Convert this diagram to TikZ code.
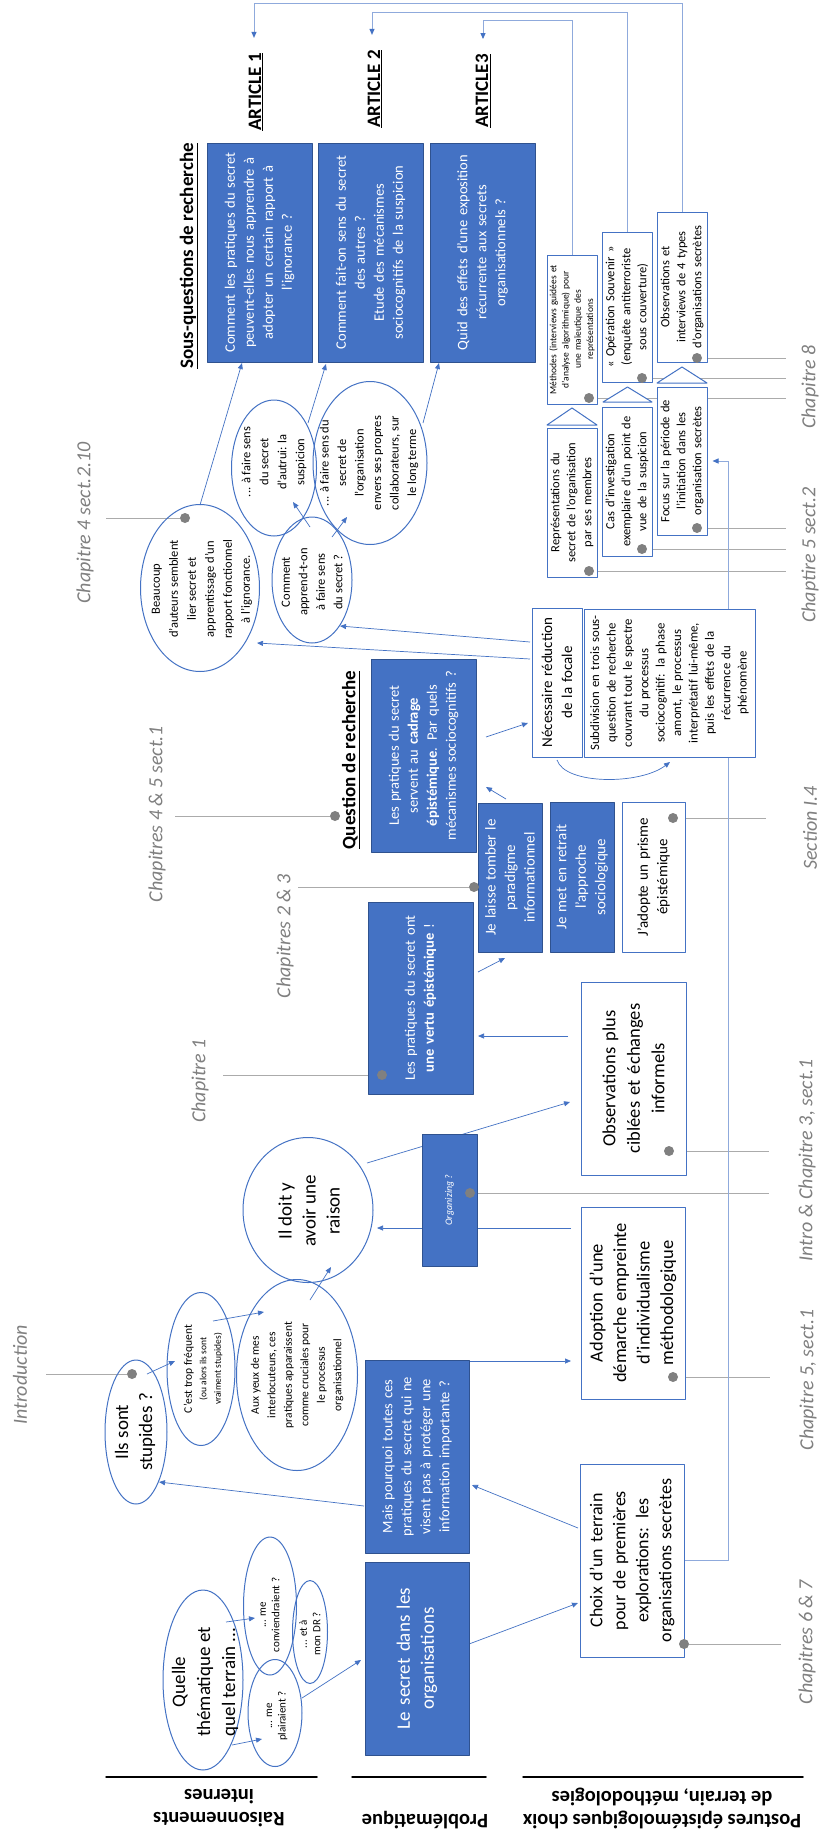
\documentclass[tikz,border=0pt]{standalone}
\usepackage{fontspec}
\setmainfont{Carlito}
\usepackage{xcolor}
\usepackage{tikz}
\usetikzlibrary{arrows.meta,shapes.geometric,calc,backgrounds}

\definecolor{bleu}{HTML}{4472C4}
\definecolor{bleufonce}{HTML}{2F528F}
\definecolor{bleuclair}{HTML}{8FAADC}
\definecolor{gris}{HTML}{808080}
\definecolor{grisclair}{HTML}{ABABAB}

\newcommand{\fsz}[2]{\fontsize{#1}{#2}\selectfont}

\tikzset{
  boitebleue/.style={rectangle,rotate=90,fill=bleu,draw=bleufonce,line width=0.8pt,text=white,align=center,inner sep=2pt},
  boiteblanche/.style={rectangle,rotate=90,fill=white,draw=bleu,line width=1pt,align=center,inner sep=2pt},
  bulle/.style={ellipse,rotate=90,draw=bleu,line width=1pt,inner sep=0pt},
  texte/.style={rotate=90,align=center,inner sep=0pt},
  titre/.style={rotate=90,inner sep=2pt,font=\fsz{19}{23}\bfseries},
  rangee/.style={rotate=180,align=center,font=\fsz{20.5}{23}\bfseries},
  chap/.style={rotate=90,inner sep=2pt,text=gris,font=\fsz{20}{24}\itshape},
  pastille/.style={circle,fill=gris,minimum size=10pt,inner sep=0pt},
  fleche/.style={->,draw=bleu,line width=0.7pt},
  lien/.style={draw=bleuclair,line width=1pt,-{Triangle[length=6pt,width=5pt,color=bleu]}},
  renvoi/.style={draw=grisclair,line width=1pt},
}

\begin{document}
\begin{tikzpicture}[x=1pt,y=-1pt,line cap=round,line join=round,>={Triangle[length=6pt,width=5pt]}]
\path[use as bounding box] (0,0) rectangle (819,1833);
\begin{scope}[on background layer]
\fill[white] (0,0) rectangle (819,1833);
\end{scope}

% rangees
\draw[line width=1.5pt] (106,1777) -- (317,1777);
\draw[line width=1.5pt] (352,1777) -- (486,1777);
\draw[line width=1.5pt] (523,1777) -- (803,1777);
\node[rangee] (lraison) at (219,1808) {Raisonnements\\internes};
\node[rangee] (lprobl) at (425,1820) {Problématique};
\node[rangee] (lpost) at (662,1808) {Postures épistémologiques choix\\de terrain, méthodologies};

% titres
\node[titre] (sousq) at (189,256) {\underline{Sous-questions de recherche}};
\node[titre] (art1) at (256,92) {\underline{ARTICLE 1}};
\node[titre] (art2) at (375,89) {\underline{ARTICLE 2}};
\node[titre] (art3) at (483,91) {\underline{ARTICLE3}};
\node[titre] (qrech) at (351,760) {\underline{Question de recherche}};

% raisonnements internes
\node[bulle,minimum width=180pt,minimum height=80pt] (quelle) at (203,1680) {};
\node[texte,font=\fsz{19}{25}] at (205,1682) {Quelle\\thématique et\\quel terrain ...};
\node[bulle,minimum width=107pt,minimum height=54pt] (plairaient) at (275,1713) {};
\node[texte,font=\fsz{11}{13.5}] at (277,1716) {... me\\plairaient ?};
\node[bulle,minimum width=138pt,minimum height=53pt] (conviendraient) at (270,1606) {};
\node[texte,font=\fsz{11}{13.5}] at (270,1615) {... me\\conviendraient ?};
\node[bulle,minimum width=103pt,minimum height=35pt] (mondr) at (310,1632) {};
\node[texte,font=\fsz{11}{13.5}] at (310,1634) {... et à\\mon DR ?};
\node[bulle,minimum width=144pt,minimum height=62pt] (stupides) at (136,1432) {};
\node[texte,font=\fsz{19}{24}] at (135,1432) {Ils sont\\stupides ?};
\node[bulle,minimum width=153pt,minimum height=68pt] (frequent) at (201,1369) {};
\node[texte,font=\fsz{11.5}{14.5}] at (203,1369) {C’est trop fréquent\\\fsz{9.5}{14}(ou alors ils sont\\\fsz{9.5}{14}vraiment stupides)};
\node[bulle,minimum width=191pt,minimum height=121pt] (auxyeux) at (297,1375) {};
\node[texte,font=\fsz{11.5}{16.5}] at (297,1375) {Aux yeux de mes\\interlocuteurs, ces\\pratiques apparaissent\\comme cruciales pour\\le processus\\organisationnel};
\node[bulle,minimum width=145pt,minimum height=130pt] (raison) at (308,1210) {};
\node[texte,font=\fsz{19}{24}] at (309,1211) {Il doit y\\avoir une\\raison};
\node[bulle,minimum width=167pt,minimum height=119pt] (beaucoup) at (200,588) {};
\node[texte,font=\fsz{12.5}{18}] at (202,589) {Beaucoup\\d’auteurs semblent\\lier secret et\\apprentissage d’un\\rapport fonctionnel\\à l’ignorance.};
\node[bulle,minimum width=126pt,minimum height=80pt] (apprend) at (312,580) {};
\node[texte,font=\fsz{12.5}{17.5}] at (312,582) {Comment\\apprend-t-on\\à faire sens\\du secret ?};
\node[bulle,minimum width=136pt,minimum height=85pt] (autrui) at (274,468) {};
\node[texte,font=\fsz{12.5}{18}] at (274,462) {... à faire sens\\du secret\\d’autrui: la\\suspicion};
\node[bulle,minimum width=163pt,minimum height=114pt] (longterme) at (370,463) {};
\node[texte,font=\fsz{12.5}{17.5}] at (369,463) {... à faire sens du\\secret de\\l’organisation\\envers ses propres\\collaborateurs, sur\\le long terme};

% problematique
\node[boitebleue,minimum width=219pt,minimum height=105pt,text width=205pt,font=\fsz{14.5}{19}] (sqa) at (259.5,252.5) {Comment les pratiques du secret\\peuvent-elles nous apprendre à\\adopter un certain rapport à\\l’ignorance ?};
\node[boitebleue,minimum width=219pt,minimum height=105pt,text width=205pt,font=\fsz{14.5}{19}] (sqb) at (370.5,252.5) {Comment fait-on sens du secret\\des autres ?\\Etude des mécanismes\\sociocognitifs de la suspicion};
\node[boitebleue,minimum width=219pt,minimum height=105pt,text width=205pt,font=\fsz{14.5}{19}] (sqc) at (482.5,252.5) {Quid des effets d’une exposition\\récurrente aux secrets\\organisationnels ?};
\node[boitebleue,minimum width=193pt,minimum height=105pt,text width=185pt,font=\fsz{14.5}{19}] (rq) at (423.5,755.5) {Les pratiques du secret\\servent au \textbf{cadrage}\\\textbf{épistémique}. Par quels\\mécanismes sociocognitifs ?};
\node[boitebleue,minimum width=192pt,minimum height=105pt,text width=185pt,font=\fsz{14.5}{19}] (vertu) at (420.5,998) {Les pratiques du secret ont\\\textbf{une vertu épistémique} !};
\node[boitebleue,minimum width=149pt,minimum height=64pt,text width=140pt,font=\fsz{15}{19.5}] (laisse) at (510,877.5) {Je laisse tomber le\\paradigme\\informationnel};
\node[boitebleue,minimum width=150pt,minimum height=64pt,text width=140pt,font=\fsz{15}{19.5}] (retrait) at (582,877) {Je met en retrait\\l’approche\\sociologique};
\node[boitebleue,minimum width=132pt,minimum height=55pt,font=\fsz{10}{12}\itshape] (organizing) at (449.5,1200) {Organizing ?};
\node[boitebleue,minimum width=193pt,minimum height=104pt,text width=185pt,font=\fsz{14.5}{19}] (pourquoi) at (417,1456.5) {Mais pourquoi toutes ces\\pratiques du secret qui ne\\visent pas à protéger une\\information importante ?};
\node[boitebleue,minimum width=193pt,minimum height=104pt,text width=185pt,font=\fsz{19}{24}] (secret) at (417,1658.5) {Le secret dans les\\organisations};

% postures et choix de terrain
\node[boiteblanche,minimum width=150pt,minimum height=63pt,text width=140pt,font=\fsz{15}{19.5}] (prisme) at (653.5,877) {J’adopte un prisme\\épistémique};
\node[boiteblanche,minimum width=149pt,minimum height=50pt,text width=140pt,font=\fsz{15}{20}] (necessaire) at (557,682.5) {Nécessaire réduction\\de la focale};
\node[boiteblanche,minimum width=148pt,minimum height=171pt,text width=142pt,font=\fsz{12.8}{16.4}] (subdiv) at (669.5,683) {Subdivision en trois sous-\\question de recherche\\couvrant tout le spectre\\du processus\\sociocognitif: la phase\\amont, le processus\\interprétatif lui-même,\\puis les effets de la\\récurrence du\\phénomène};
\node[boiteblanche,minimum width=193pt,minimum height=105pt,text width=185pt,font=\fsz{18.5}{24.5}] (obsplus) at (633.5,1078.5) {Observations plus\\ciblées et échanges\\informels};
\node[boiteblanche,minimum width=192pt,minimum height=104pt,text width=185pt,font=\fsz{18.5}{23.5}] (adoption) at (633,1303) {Adoption d’une\\démarche empreinte\\d’individualisme\\méthodologique};
\node[boiteblanche,minimum width=193pt,minimum height=104pt,text width=185pt,font=\fsz{18}{23}] (choix) at (632,1560.5) {Choix d’un terrain\\pour de premières\\explorations: les\\organisations secrètes};
\node[boiteblanche,minimum width=149pt,minimum height=50pt,text width=145pt,inner sep=1pt,font=\fsz{9.5}{12.2}] (methodes) at (572,329.5) {Méthodes (interviews guidées et\\d’analyse algorithmique) pour\\une maïeutique des\\représentations};
\node[boiteblanche,minimum width=150pt,minimum height=50pt,text width=144pt,inner sep=1pt,font=\fsz{12.5}{16}] (souvenir) at (627,307) {« Opération Souvenir »\\(enquête antiterroriste\\sous couverture)};
\node[boiteblanche,minimum width=150pt,minimum height=50pt,text width=144pt,inner sep=1pt,font=\fsz{12.5}{16}] (obs4) at (682,287) {Observations et\\interviews de 4 types\\d’organisations secrètes};
\node[boiteblanche,minimum width=149pt,minimum height=50pt,text width=144pt,inner sep=1pt,font=\fsz{12.5}{16}] (repres) at (572,502.5) {Représentations du\\secret de l’organisation\\par ses membres};
\node[boiteblanche,minimum width=149pt,minimum height=50pt,text width=144pt,inner sep=1pt,font=\fsz{12.5}{16}] (cas) at (627,481.5) {Cas d’investigation\\exemplaire d’un point de\\vue de la suspicion};
\node[boiteblanche,minimum width=148pt,minimum height=50pt,text width=144pt,inner sep=1pt,font=\fsz{12.5}{16}] (focus) at (682,461) {Focus sur la période de\\l’initiation dans les\\organisation secrètes};
\draw[draw=bleu,line width=1pt,fill=white] (547,425) -- (572,408) -- (597,425) -- cycle;
\draw[draw=bleu,line width=1pt,fill=white] (603,402) -- (627.5,387) -- (652,402) -- cycle;
\draw[draw=bleu,line width=1pt,fill=white] (657,383) -- (682,367) -- (707,383) -- cycle;

% chapitres
\node[chap] (ch4210) at (85,523) {Chapitre 4 sect.2.10};
\node[chap] (ch45) at (157,814) {Chapitres 4 \& 5 sect.1};
\node[chap] (ch23) at (285,936) {Chapitres 2 \& 3};
\node[chap] (ch1) at (200,1081) {Chapitre 1};
\node[chap] (intro) at (20,1375) {Introduction};
\node[chap] (ch8) at (810,387) {Chapitre 8};
\node[chap] (ch52) at (810,555) {Chaptire 5 sect.2};
\node[chap] (sec14) at (810,828) {Section I.4};
\node[chap] (intro3) at (807,1160) {Intro \& Chapitre 3, sect.1};
\node[chap] (ch51) at (808,1380) {Chapitre 5, sect.1};
\node[chap] (ch67) at (807,1642) {Chapitres 6 \& 7};

\node[pastille] (pbeaucoup) at (185,518) {};
\node[pastille] (prq) at (335,816) {};
\node[pastille] (plaisse) at (474,887) {};
\node[pastille] (pvertu) at (382,1075) {};
\node[pastille] (pstupides) at (132,1374) {};
\node[pastille] (porga) at (470,1193) {};
\node[pastille] (pobsplus) at (669,1151) {};
\node[pastille] (padoption) at (673,1377) {};
\node[pastille] (pchoix) at (684,1644) {};
\node[pastille] (pprisme) at (673,818) {};
\node[pastille] (pmeth) at (589,398) {};
\node[pastille] (psouv) at (642,378) {};
\node[pastille] (pobs4) at (697,358) {};
\node[pastille] (prepres) at (589,571) {};
\node[pastille] (pcas) at (642,549) {};
\node[pastille] (pfocus) at (697,528) {};

\begin{scope}[on background layer]
% renvois vers les chapitres
\draw[renvoi,shorten >=10pt] (pbeaucoup) -- (pbeaucoup -| ch4210.south);
\draw[renvoi,shorten >=7pt] (prq) -- (prq -| ch45.south);
\draw[renvoi,shorten >=2pt] (plaisse) -- (plaisse -| ch23.south);
\draw[renvoi,shorten >=12pt] (pvertu) -- (pvertu -| ch1.south);
\draw[renvoi,shorten >=17pt] (pstupides) -- (pstupides -| intro.south);
\draw[renvoi,shorten >=13pt] (pmeth) -- (pmeth -| ch8.north);
\draw[renvoi,shorten >=13pt] (psouv) -- (psouv -| ch8.north);
\draw[renvoi,shorten >=13pt] (pobs4) -- (pobs4 -| ch8.north);
\draw[renvoi,shorten >=13pt] (prepres) -- (prepres -| ch52.north);
\draw[renvoi,shorten >=13pt] (pcas) -- (pcas -| ch52.north);
\draw[renvoi,shorten >=13pt] (pfocus) -- (pfocus -| ch52.north);
\draw[renvoi,shorten >=35pt] (pprisme) -- (pprisme -| sec14.north);
\draw[renvoi,shorten >=27pt] (pobsplus) -- (pobsplus -| intro3.north);
\draw[renvoi,shorten >=27pt] (porga) -- (porga -| intro3.north);
\draw[renvoi,shorten >=27pt] (padoption) -- (padoption -| ch51.north);
\draw[renvoi,shorten >=15pt] (pchoix) -- (pchoix -| ch67.north);

% fleches
\draw[fleche] ($(quelle)+(29,65)$) -- ($(plairaient)+(-13,26)$);
\draw[fleche] ($(quelle)+(23,-58)$) -- ($(conviendraient)+(-15,12)$);
\draw[fleche] ($(plairaient)+(27,-15)$) -- ($(secret)+(-56,1.5)$);
\draw[fleche] ($(secret)+(52,-14.5)$) -- ($(choix)+(-54,42.5)$);
\draw[fleche] ($(choix)+(-54,-32.5)$) -- ($(pourquoi)+(55,28.5)$);
\draw[fleche] ($(pourquoi)+(-53,49.5)$) -- ($(stupides)+(23,50)$);
\draw[fleche] ($(stupides)+(11,-58)$) -- ($(frequent)+(-26,-8)$);
\draw[fleche] ($(frequent)+(12,-48)$) -- ($(auxyeux)+(-33,-63)$);
\draw[fleche] ($(auxyeux)+(13,-75)$) -- ($(raison)+(23,57)$);
\draw[fleche] ($(pourquoi)+(52,-95.5)$) -- ($(adoption)+(-62,58)$);
\draw[fleche] ($(adoption)+(-62,-75)$) -- ($(raison)+(69,18)$);
\draw[fleche] ($(raison)+(59,-47)$) -- ($(obsplus)+(-63.5,23.5)$);
\draw[fleche] ($(obsplus)+(-65.5,-42.5)$) -- ($(vertu)+(57.5,38)$);
\draw[fleche] ($(vertu)+(57.5,-26)$) -- ($(laisse)+(-5,80.5)$);
\draw[fleche] ($(laisse)+(-4,-78.5)$) -- ($(rq)+(62.5,31.5)$);
\draw[fleche] ($(rq)+(62.5,-18.5)$) -- ($(necessaire)+(-29,40.5)$);
\draw[fleche] ($(necessaire)+(-27,-40.5)$) -- ($(apprend)+(28,46)$);
\draw[fleche] ($(necessaire)+(-27,-23.5)$) -- ($(beaucoup)+(57,55)$);
\draw[fleche] ($(necessaire)+(0,77.5)$) .. controls ($(necessaire)+(8,102.5)$) and ($(subdiv)+(-29.5,102)$) .. ($(subdiv)+(0.5,79)$);
\draw[fleche] ($(apprend)+(-2,-53)$) -- ($(autrui)+(19,34)$);
\draw[fleche] ($(apprend)+(20,-43)$) -- ($(longterme)+(-23,54)$);
\draw[fleche] ($(beaucoup)+(0,-83)$) -- ($(sqa)+(-17.5,110.5)$);
\draw[fleche] ($(autrui)+(34,-45)$) -- ($(sqb)+(-44.5,111.5)$);
\draw[fleche] ($(longterme)+(53,-40)$) -- ($(sqc)+(-43.5,110.5)$);

% liens vers les articles
\draw[lien] (choix.south) -- ++(44,0) |- ($(focus.south)+(5,0)$);
\draw[lien] (obs4.east) -- ++(0,-208) -| ($(art1.east)+(-2,-13)$);
\draw[lien] (souvenir.east) -- ++(0,-219) -| ($(art2.east)+(-3,-13)$);
\draw[lien] (methodes.east) -- ++(0,-234) -| ($(art3.east)+(0,-13)$);
\end{scope}
\end{tikzpicture}
\end{document}
